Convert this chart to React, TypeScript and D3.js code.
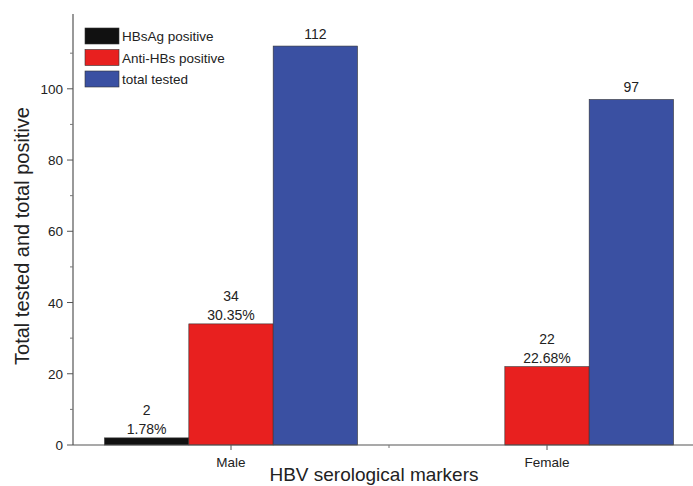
import React from "react";
import * as d3 from "d3";

const categories = ["Male", "Female"];
const seriesNames = ["HBsAg positive", "Anti-HBs positive", "total tested"];
const hbsag = [2, 0];
const antiHbs = [34, 22];
const totalTested = [112, 97];
const labelsHbsag = ["2\n1.78%", ""];
const labelsAnti = ["34\n30.35%", "22\n22.68%"];
const labelsTotal = ["112", "97"];
const yTicks = [0, 20, 40, 60, 80, 100];
const colors = ["#111111", "#e8201f", "#3a50a2"];

const W = 693, H = 486;
const left = 73, bottom = 445, top = 14;

export default function App() {
  const y = d3.scaleLinear().domain([0, 121]).range([bottom, top]);
  const x = d3.scaleBand().domain(categories).range([left, 705]).padding(0);
  const sub = d3.scaleBand().domain(seriesNames).range([-126.5, 126.5]).padding(0);
  const values = [hbsag, antiHbs, totalTested];
  const labels = [labelsHbsag, labelsAnti, labelsTotal];
  const minor = d3.range(10, 121, 20);
  const font = "'Liberation Sans', Arial, sans-serif";
  return (
    <svg width={W} height={H} style={{ display: "block", position: "absolute", left: 0, top: 0 }} fontFamily={font}>
      <rect width={W} height={H} fill="#fff" />
      {seriesNames.map((s, si) =>
        categories.map((c, ci) => {
          const v = values[si][ci];
          if (!v) return null;
          const cx = x(c)! + x.bandwidth() / 2;
          const bx = cx + sub(s)!;
          const lines = labels[si][ci].split("\n");
          const bw = sub.bandwidth();
          return (
            <g key={s + c}>
              <rect x={bx} y={y(v)} width={bw} height={bottom - y(v)} fill={colors[si]} stroke="#333" strokeWidth={0.6} />
              {lines.map((t, li) => (
                <text key={li} x={bx + bw / 2} y={y(v) - (lines.length === 1 ? 7 : 4) - (lines.length - 1 - li) * 18.5} textAnchor="middle" fontSize={14} fill="#222">{t}</text>
              ))}
            </g>
          );
        })
      )}
      {/* y axis */}
      <line x1={left} x2={left} y1={top} y2={bottom} stroke="#555" strokeWidth={1.2} />
      {yTicks.map(t => (
        <g key={t}>
          <line x1={left - 6} x2={left} y1={y(t)} y2={y(t)} stroke="#555" />
          <text x={left - 10} y={y(t) + 5} textAnchor="end" fontSize={13.5} fill="#222">{t}</text>
        </g>
      ))}
      {minor.map(t => (
        <line key={t} x1={left - 3} x2={left} y1={y(t)} y2={y(t)} stroke="#777" />
      ))}
      {/* x axis */}
      <line x1={left} x2={W} y1={bottom} y2={bottom} stroke="#555" strokeWidth={1.2} />
      {categories.map(c => {
        const cx = x(c)! + x.bandwidth() / 2;
        return (
          <g key={c}>
            <line x1={cx} x2={cx} y1={bottom} y2={bottom + 5} stroke="#555" />
            <text x={cx} y={bottom + 22} textAnchor="middle" fontSize={13.5} fill="#222">{c}</text>
          </g>
        );
      })}
      <line x1={x("Female")!} x2={x("Female")!} y1={bottom} y2={bottom + 3} stroke="#777" />
      <text x={374} y={481} textAnchor="middle" fontSize={19} fill="#222">HBV serological markers</text>
      <text transform={`translate(29,236) rotate(-90)`} textAnchor="middle" fontSize={20} fill="#222">Total tested and total positive</text>
      {/* legend */}
      {seriesNames.map((s, i) => (
        <g key={s} transform={`translate(85,${28 + i * 21.5})`}>
          <rect width={34} height={16} fill={colors[i]} stroke="#333" strokeWidth={0.6} />
          <text x={37} y={13} fontSize={13.5} fill="#222">{s}</text>
        </g>
      ))}
    </svg>
  );
}
